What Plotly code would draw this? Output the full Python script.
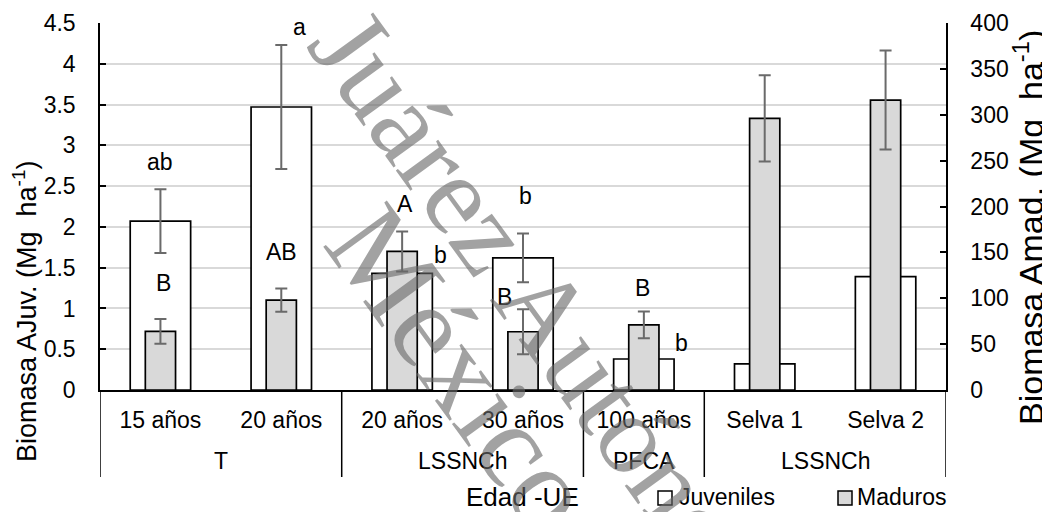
import plotly.graph_objects as go

# ---------------- data ----------------
groups = ["T", "T", "LSSNCh", "LSSNCh", "PFCA", "LSSNCh", "LSSNCh"]
categories = ["15 años", "20 años", "20 años", "30 años", "100 años", "Selva 1", "Selva 2"]
juveniles = [2.07, 3.47, 1.43, 1.62, 0.38, 0.32, 1.39]
juveniles_err = [0.39, 0.76, None, 0.30, None, None, None]
maduros = [64, 98, 151, 63.5, 71, 296, 316]
maduros_err = [13.5, 12.7, 21.8, 24.5, 14.5, 47, 54]
series_names = ["Juveniles", "Maduros"]
series_fill = ["white", "#d9d9d9"]

# significance letters: (category index, series, text)
letters_cat = [0, 1, 0, 1, 2, 2, 3, 3, 4, 4]
letters_series = ["juv", "juv", "mad", "mad", "mad", "juv", "juv", "mad", "mad", "juv"]
letters_text = ["ab", "a", "B", "AB", "A", "b", "b", "B", "B", "b"]
# pixel offsets of each letter from the top of its bar / error bar (style)
letters_shift = [(0, 27), (18, 18), (3, 36), (0, 36), (3, 27), (38, 18), (2, 37), (-19, 12), (-1, 24), (38, 16)]

# ---------------- geometry ----------------
W, H = 1042, 512
L, R, T, B = 100, 946, 23, 390
FONT = "Liberation Sans, Arial, sans-serif"


def px(xp):
    return (xp - L) / (R - L)


def py(yp):
    return (B - yp) / (B - T)


x_idx = list(range(len(categories)))

fig = go.Figure()
fig.add_trace(go.Bar(
    x=x_idx, y=juveniles, name=series_names[0], width=0.5,
    marker=dict(color=series_fill[0], line=dict(color="black", width=1.7)),
    error_y=dict(type="data", array=juveniles_err, visible=True,
                 color="#6a6a6a", thickness=2, width=6),
    yaxis="y", showlegend=False,
))
fig.add_trace(go.Bar(
    x=x_idx, y=maduros, name=series_names[1], width=0.25,
    marker=dict(color=series_fill[1], line=dict(color="black", width=1.7)),
    error_y=dict(type="data", array=maduros_err, visible=True,
                 color="#6a6a6a", thickness=2, width=6),
    yaxis="y2", showlegend=False,
))

annotations = []
shapes = []
# significance letters
for ci, s, t, (dx, dy) in zip(letters_cat, letters_series, letters_text, letters_shift):
    if s == "juv":
        e = juveniles_err[ci] or 0
        yv, yr = juveniles[ci] + e, "y"
    else:
        e = maduros_err[ci] or 0
        yv, yr = maduros[ci] + e, "y2"
    annotations.append(dict(x=ci, y=yv, xref="x", yref=yr, text=t, showarrow=False,
                            xanchor="center", yanchor="middle", xshift=dx, yshift=dy,
                            font=dict(size=23, color="black", family=FONT)))

# group labels and dividers
runs = []
start = 0
for i in range(1, len(groups) + 1):
    if i == len(groups) or groups[i] != groups[start]:
        runs.append((groups[start], start, i - 1))
        start = i
bounds = set()
for g, a, b in runs:
    annotations.append(dict(x=(a + b) / 2, y=py(461), xref="x", yref="paper", text=g,
                            showarrow=False, xanchor="center", yanchor="middle",
                            font=dict(size=23, color="black", family=FONT)))
    bounds.add(a - 0.5)
    bounds.add(b + 0.5)
for bd in sorted(bounds):
    shapes.append(dict(type="line", xref="x", yref="paper", x0=bd, x1=bd,
                       y0=0, y1=py(477), line=dict(color="black", width=1.5)))

# axis titles
annotations.append(dict(x=px(25), y=py(312), xref="paper", yref="paper",
                        text="Biomasa AJuv. (Mg  ha<sup>-1</sup>)", textangle=-90,
                        showarrow=False, xanchor="center", yanchor="middle",
                        font=dict(size=27, color="black", family=FONT)))
annotations.append(dict(x=px(1029), y=py(228), xref="paper", yref="paper",
                        text="Biomasa Amad. (Mg  ha<sup>-1</sup>)", textangle=-90,
                        showarrow=False, xanchor="center", yanchor="middle",
                        font=dict(size=34, color="black", family=FONT)))
annotations.append(dict(x=px(522), y=py(497), xref="paper", yref="paper",
                        text="Edad -UE", showarrow=False, xanchor="center", yanchor="middle",
                        font=dict(size=26, color="black", family=FONT)))

# legend (drawn by hand so it does not push the margins)
legend_sq_x = [665, 845]
legend_txt_x = [677, 855]
for name, fill, sx, tx in zip(series_names, series_fill, legend_sq_x, legend_txt_x):
    shapes.append(dict(type="rect", xref="paper", yref="paper",
                       x0=px(sx - 7), x1=px(sx + 7), y0=py(505), y1=py(491),
                       fillcolor=fill, line=dict(color="black", width=1.5)))
    annotations.append(dict(x=px(tx), y=py(497), xref="paper", yref="paper", text=name,
                            showarrow=False, xanchor="left", yanchor="middle",
                            font=dict(size=23, color="black", family=FONT)))

# watermark
WM = dict(color="rgba(105,105,105,0.62)", family="Liberation Serif, Times New Roman, serif")
annotations.append(dict(x=px(570), y=py(344), xref="paper", yref="paper",
                        text="Juárez Autónoma", textangle=54, showarrow=False,
                        xanchor="center", yanchor="middle", font=dict(size=114, **WM)))
annotations.append(dict(x=px(462), y=py(368), xref="paper", yref="paper",
                        text="México", textangle=54, showarrow=False,
                        xanchor="center", yanchor="middle", font=dict(size=120, **WM)))

fig.update_layout(
    width=W, height=H,
    margin=dict(l=L, r=W - R, t=T, b=H - B, pad=0, autoexpand=False),
    paper_bgcolor="white", plot_bgcolor="white",
    font=dict(family=FONT, size=23, color="black"),
    barmode="overlay",
    showlegend=False,
    xaxis=dict(range=[-0.5, len(categories) - 0.5], tickmode="array", tickvals=x_idx,
               ticktext=categories, showgrid=False, zeroline=False,
               showline=True, linecolor="black", linewidth=1.5, ticks="",
               ticklabelstandoff=9, tickfont=dict(size=23), automargin=False),
    yaxis=dict(range=[0, 4.5], dtick=0.5, tick0=0, showgrid=True, gridcolor="#d9d9d9",
               gridwidth=1.5, zeroline=False, showline=True, linecolor="black",
               linewidth=1.5, ticks="inside", ticklen=6, tickcolor="black", tickwidth=1.5,
               ticklabelstandoff=18, tickfont=dict(size=23), automargin=False),
    yaxis2=dict(range=[0, 400], dtick=50, tick0=0, overlaying="y", side="right",
                showgrid=False, zeroline=False, showline=True, linecolor="black",
                linewidth=1.5, ticks="inside", ticklen=6, tickcolor="black", tickwidth=1.5,
                ticklabelstandoff=18, tickfont=dict(size=23), automargin=False),
    annotations=annotations,
    shapes=shapes,
)

fig.write_html("out.html")
